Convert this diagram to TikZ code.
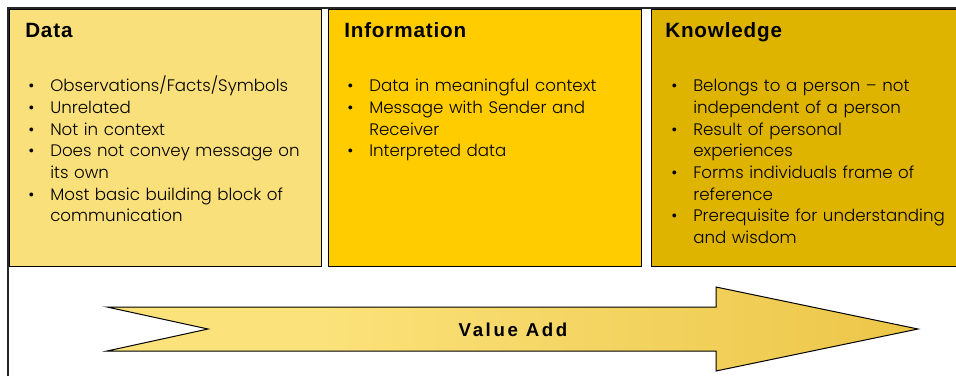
\documentclass[tikz,border=0pt]{standalone}
\usepackage{fontspec}
\setmainfont{Poppins Light}
\newfontfamily\headfont[LetterSpace=4]{Liberation Sans}
\newfontfamily\arrowfont[LetterSpace=14]{Liberation Sans}
\usetikzlibrary{calc}

\definecolor{dataYellow}{HTML}{FAE07A}
\definecolor{infoYellow}{HTML}{FFCC00}
\definecolor{knowGold}{HTML}{DFB400}
\definecolor{arrowLight}{HTML}{FBE27A}
\definecolor{arrowMid}{HTML}{EDC84C}
\definecolor{arrowDark}{HTML}{DDB000}
\pgfdeclarehorizontalshading{valueshade}{100bp}{color(0bp)=(arrowLight); color(38bp)=(arrowLight); color(72bp)=(arrowMid); color(100bp)=(arrowDark)}

\newcommand{\bitem}[1]{\par\noindent\hangindent=16.5pt\hangafter=1%
  \makebox[16.5pt][l]{\textbullet}\strut#1\par}

\tikzset{
  frameline/.style={line width=1.6pt, black!85},
  infobox/.style={draw=black, line width=0.75pt, rectangle, anchor=north west,
    minimum height=192.75pt, inner sep=0pt},
  boxtitle/.style={anchor=base west, inner sep=0pt,
    font=\headfont\bfseries\fontsize{15.5}{18}\selectfont},
  boxlist/.style={anchor=north west, inner sep=0pt, text width=215pt,
    font=\fontsize{12.5}{16.25}\selectfont},
  valuearrow/.style={draw=black, line width=0.75pt, shading=valueshade},
  valuelabel/.style={anchor=base, inner sep=0pt,
    font=\arrowfont\bfseries\fontsize{14}{16}\selectfont}
}

\begin{document}
\begin{tikzpicture}[x=0.75pt, y=-0.75pt]
  \useasboundingbox (0,0) rectangle (956,376);
  \draw[frameline] (8,376) -- (8,8) -- (960,8);

  % the three boxes
  \node[infobox, fill=dataYellow, minimum width=234pt] (data) at (9,9) {};
  \node[infobox, fill=infoYellow, minimum width=234.75pt] (info) at (328,9) {};
  \node[infobox, fill=knowGold, minimum width=236pt] (know) at (651,9) {};

  \node[boxtitle] (dataTitle) at ($(data.north west)+(16,28)$) {Data};
  \node[boxtitle] (infoTitle) at ($(info.north west)+(16,28)$) {Information};
  \node[boxtitle] (knowTitle) at ($(know.north west)+(14,28)$) {Knowledge};

  \node[boxlist] (dataList) at ($(data.north west)+(19,61)$) {%
    \bitem{Observations/Facts/Symbols}
    \bitem{Unrelated}
    \bitem{Not in context}
    \bitem{Does not convey message on\newline its own}
    \bitem{Most basic building block of\newline communication}};
  \node[boxlist] (infoList) at ($(info.north west)+(19,61)$) {%
    \bitem{Data in meaningful context}
    \bitem{Message with Sender and\newline Receiver}
    \bitem{Interpreted data}};
  \node[boxlist] (knowList) at ($(know.north west)+(20,61)$) {%
    \bitem{Belongs to a person -- not\newline independent of a person}
    \bitem{Result of personal\newline experiences}
    \bitem{Forms individuals frame of\newline reference}
    \bitem{Prerequisite for understanding\newline and wisdom}};

  % value arrow
  \draw[valuearrow] (107,307) -- (208,329) -- (107,351) -- (716,351) -- (716,371)
    -- (918,329) -- (716,287) -- (716,307) -- cycle;
  \node[valuelabel] (value) at (513,336) {Value Add};
\end{tikzpicture}
\end{document}
